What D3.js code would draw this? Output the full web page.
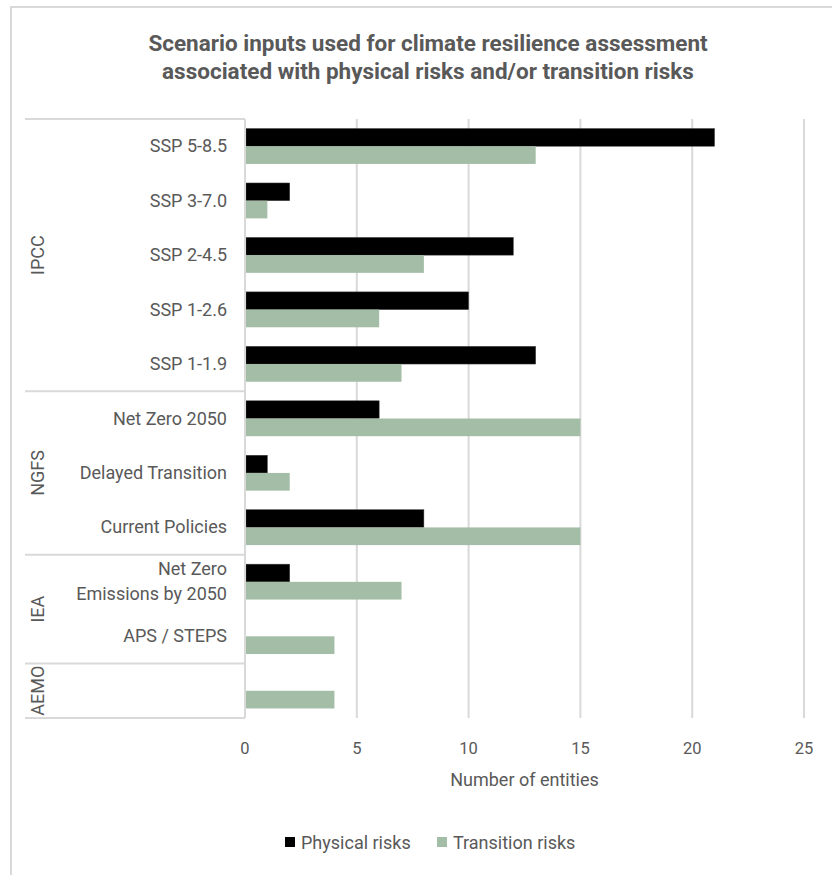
<!DOCTYPE html>
<html>
<head>
<meta charset="utf-8">
<script src="https://cdn.jsdelivr.net/npm/d3@7"></script>
<style>
  html, body { margin: 0; padding: 0; background: #fff; }
  svg { display: block; }
</style>
</head>
<body>
<div id="chart"></div>
<script>
const categories = ['SSP 5-8.5', 'SSP 3-7.0', 'SSP 2-4.5', 'SSP 1-2.6', 'SSP 1-1.9',
  'Net Zero 2050', 'Delayed Transition', 'Current Policies',
  'Net Zero\nEmissions by 2050', 'APS / STEPS', '']
const groups = [
  { name: 'IPCC', start: 0, end: 5 },
  { name: 'NGFS', start: 5, end: 8 },
  { name: 'IEA', start: 8, end: 10 },
  { name: 'AEMO', start: 10, end: 11 }
]
const physical = [21, 2, 12, 10, 13, 6, 1, 8, 2, 0, 0]
const transition = [13, 1, 8, 6, 7, 15, 2, 15, 7, 4, 4]
const seriesNames = ['Physical risks', 'Transition risks']
const xTicks = [0, 5, 10, 15, 20, 25]

const width = 832
const height = 875
const marginTop = 119
const marginLeft = 245
const plotRight = 804
const plotBottom = 718
const textColor = '#595959'
const gridColor = '#d9d9d9'
const colors = ['#000000', '#a3bda6']
const font = "'Roboto', sans-serif"

const svg = d3.select('#chart')
  .append('svg')
  .attr('width', width)
  .attr('height', height)
  .attr('font-family', font)

// outer chart frame (runs off the right/bottom of the picture)
svg.append('rect')
  .attr('x', 11).attr('y', 7)
  .attr('width', width + 20).attr('height', height + 20)
  .attr('fill', 'none')
  .attr('stroke', gridColor)
  .attr('stroke-width', 2)

svg.append('text')
  .attr('text-anchor', 'middle')
  .attr('fill', textColor)
  .attr('font-size', 22.5)
  .attr('font-weight', 'bold')
  .selectAll('tspan')
  .data(['Scenario inputs used for climate resilience assessment', 'associated with physical risks and/or transition risks'])
  .join('tspan')
  .attr('x', 428)
  .attr('y', (d, i) => 51 + i * 28)
  .text(d => d)

const x = d3.scaleLinear().domain([0, 25]).range([marginLeft, plotRight])
const y = d3.scaleBand().domain(d3.range(categories.length)).range([marginTop, plotBottom]).paddingInner(0.35).paddingOuter(0.175)
const step = y.step()
const yEdge = i => marginTop + i * step

// gridlines
svg.append('g')
  .selectAll('line')
  .data(xTicks.slice(1))
  .join('line')
  .attr('x1', d => x(d)).attr('x2', d => x(d))
  .attr('y1', marginTop).attr('y2', plotBottom)
  .attr('stroke', gridColor)
  .attr('stroke-width', 2)

// bars
const series = [physical, transition]
const bh = y.bandwidth() / 2
series.forEach((vals, s) => {
  svg.append('g')
    .selectAll('rect')
    .data(vals.map((v, i) => ({ v, i })).filter(d => d.v > 0))
    .join('rect')
    .attr('x', x(0) + 1)
    .attr('y', d => y(d.i) + s * bh)
    .attr('width', d => x(d.v) - x(0) - 1)
    .attr('height', bh)
    .attr('fill', colors[s])
    .attr('stroke', s === 0 ? '#404040' : 'none')
    .attr('stroke-width', 0.5)
})

// category axis box with group separators
const axisG = svg.append('g').attr('stroke', gridColor).attr('stroke-width', 2)
axisG.append('line')
  .attr('x1', marginLeft).attr('x2', marginLeft)
  .attr('y1', marginTop).attr('y2', plotBottom)
const seps = [0].concat(groups.map(g => g.end))
axisG.selectAll('line.sep')
  .data(seps)
  .join('line')
  .attr('class', 'sep')
  .attr('x1', 25).attr('x2', marginLeft)
  .attr('y1', d => yEdge(d)).attr('y2', d => yEdge(d))

// category labels
svg.append('g')
  .selectAll('text')
  .data(categories.map((c, i) => ({ c, i })))
  .join('text')
  .attr('text-anchor', 'end')
  .attr('fill', textColor)
  .attr('font-size', 18)
  .each(function (d) {
    const lines = d.c.split('\n')
    const cy = y(d.i) + y.bandwidth() / 2
    d3.select(this).selectAll('tspan')
      .data(lines)
      .join('tspan')
      .attr('x', 227)
      .attr('y', (l, k) => cy + 6 + (k - (lines.length - 1) / 2) * 25)
      .text(l => l)
  })

// group labels
svg.append('g')
  .selectAll('text')
  .data(groups)
  .join('text')
  .attr('transform', d => `translate(44,${(yEdge(d.start) + yEdge(d.end)) / 2}) rotate(-90)`)
  .attr('text-anchor', 'middle')
  .attr('fill', textColor)
  .attr('font-size', 18)
  .text(d => d.name)

// x tick labels
svg.append('g')
  .selectAll('text')
  .data(xTicks)
  .join('text')
  .attr('x', d => x(d))
  .attr('y', 754)
  .attr('text-anchor', 'middle')
  .attr('fill', textColor)
  .attr('font-size', 16.5)
  .text(d => d)

svg.append('text')
  .attr('x', (marginLeft + plotRight) / 2)
  .attr('y', 786)
  .attr('text-anchor', 'middle')
  .attr('fill', textColor)
  .attr('font-size', 18)
  .text('Number of entities')

// legend
const legendX = [285, 437]
const leg = svg.append('g')
  .selectAll('g')
  .data(seriesNames)
  .join('g')
  .attr('transform', (d, i) => `translate(${legendX[i]},842)`)
leg.append('rect')
  .attr('x', 0).attr('y', -5)
  .attr('width', 10).attr('height', 10)
  .attr('fill', (d, i) => colors[i])
leg.append('text')
  .attr('x', 16).attr('y', 6.5)
  .attr('fill', textColor)
  .attr('font-size', 18)
  .text(d => d)
</script>
</body>
</html>
